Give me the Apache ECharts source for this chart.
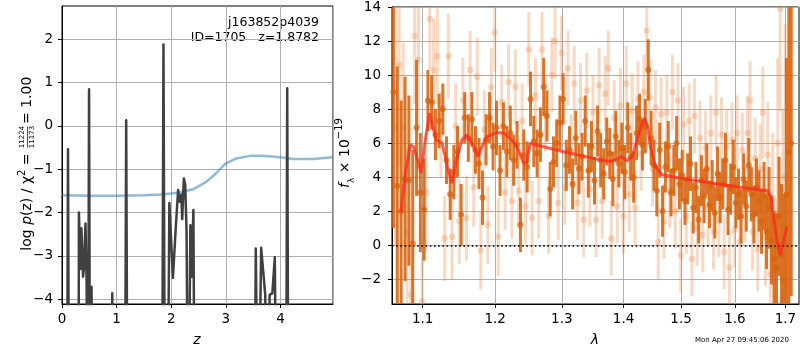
<!DOCTYPE html>
<html><head><meta charset="utf-8">
<script src="https://cdn.jsdelivr.net/npm/echarts@6/dist/echarts.min.js"></script>
<style>html,body{margin:0;padding:0;background:#fff}#c{width:800px;height:350px}</style>
</head><body><div id="c"></div>
<script>
// ---------- left panel: log p(z) and scaled chi2 ----------
const pzZ   = [0, 0.09, 0.11, 0.13, 0.30, 0.31, 0.335, 0.355, 0.385, 0.40, 0.43, 0.45, 0.475, 0.495, 0.515, 0.54, 0.555, 0.57, 0.90, 0.92, 0.94, 1.15, 1.175, 1.20, 1.83, 1.857, 1.885, 1.93, 1.965, 2.03, 2.08, 2.125, 2.155, 2.185, 2.20, 2.23, 2.255, 2.28, 2.31, 2.33, 2.35, 2.37, 2.405, 2.43, 3.52, 3.547, 3.59, 3.62, 3.645, 3.72, 3.76, 3.80, 3.85, 3.895, 3.93, 4.10, 4.122, 4.145, 4.96];
const pzLog = [-8, -8, -0.54, -8, -8, -2.0, -3.3, -2.36, -3.48, -3.3, -2.25, -3.6, -8, 0.85, -8, -3.71, -3.7, -8, -8, -3.86, -8, -8, 0.13, -8, -8, 1.88, -8, -8, -1.78, -3.51, -2.4, -1.48, -1.75, -1.58, -2.15, -1.21, -1.35, -2.45, -8, -8, -2.29, -3.48, -1.94, -8, -8, -2.83, -8, -8, -2.81, -3.9, -8, -3.9, -3.86, -3.03, -8, -8, 0.87, -8, -8];
const chiZ   = [0, 0.5, 1.0, 1.5, 1.79, 2.0, 2.16, 2.40, 2.64, 2.83, 2.98, 3.19, 3.44, 3.68, 3.99, 4.23, 4.60, 4.96];
const chiVal = [-1.60, -1.61, -1.61, -1.60, -1.58, -1.56, -1.53, -1.46, -1.29, -1.08, -0.88, -0.75, -0.69, -0.69, -0.72, -0.76, -0.76, -0.72];
const zTicks = [0, 1, 2, 3, 4];
const logpTicks = [-4, -3, -2, -1, 0, 1, 2];

// ---------- right panel: spectrum ----------
const darkLam = [1.062,1.067,1.072,1.077,1.082,1.087,1.092,1.097,1.102,1.107,1.112,1.117,1.122,1.127,1.132,1.137,1.142,1.147,1.152,1.157,1.162,1.167,1.172,1.177,1.182,1.187,1.192,1.197,1.202,1.207,1.212,1.217,1.222,1.227,1.232,1.237,1.242,1.247,1.252,1.257,1.262,1.267,1.272,1.277,1.282,1.287,1.292,1.297,1.302,1.307,1.312,1.317,1.322,1.327,1.332,1.337,1.342,1.347,1.352,1.357,1.362,1.367,1.372,1.377,1.382,1.387,1.392,1.397,1.402,1.407,1.412,1.417,1.422,1.427,1.432,1.437,1.442,1.447,1.452,1.457,1.462,1.467,1.472,1.477,1.482,1.487,1.492,1.497,1.502,1.507,1.512,1.517,1.522,1.527,1.532,1.537,1.542,1.547,1.552,1.557,1.562,1.567,1.572,1.577,1.582,1.587,1.592,1.597,1.602,1.607,1.612,1.617,1.622,1.627,1.632,1.637,1.642,1.647,1.652,1.657,1.662,1.667,1.672,1.677,1.682,1.687,1.692,1.697,1.702,1.707,1.712];
const darkFlux = [9.0,3.5,2.0,3.9,3.8,0.1,6.9,3.1,2.1,8.5,8.4,6.5,7.3,8.0,5.0,3.0,4.3,5.5,1.8,7.5,6.3,7.4,5.6,4.8,2.8,6.2,7.5,5.8,6.9,4.4,7.0,5.5,6.6,5.0,5.9,1.2,5.3,4.6,8.6,6.1,5.4,6.5,9.3,7.6,3.3,4.9,6.0,7.2,8.6,4.7,5.6,3.6,6.3,4.5,5.2,7.3,4.4,5.8,3.8,6.7,5.0,4.2,6.1,5.4,3.9,6.4,4.8,5.7,4.3,6.9,5.2,4.0,6.6,7.4,5.9,7.0,10.3,6.3,4.7,3.2,5.6,2.0,4.6,5.8,3.1,4.4,6.0,3.6,4.1,2.6,3.9,4.8,2.2,3.4,1.5,3.8,2.9,4.5,2.4,3.5,1.9,4.2,2.8,3.6,5.0,2.1,3.3,4.6,2.5,3.0,1.7,3.9,2.3,4.7,3.0,1.8,3.4,2.6,1.4,2.9,0.8,2.2,0.3,-0.8,-1.3,1.7,-0.6,-2.0,3.0,5.5,6.0];
const darkErr = [8,7,6.5,6,5,5.5,4,3.5,3,1.8,1.6,1.5,1.6,1.5,1.4,1.5,1.6,1.5,1.8,1.5,1.4,1.6,1.4,1.5,1.6,1.5,1.5,1.4,1.6,1.5,1.4,1.5,1.6,1.5,1.4,1.6,1.5,1.5,1.6,1.5,1.4,1.6,1.7,1.5,1.6,1.5,1.4,1.6,1.5,1.5,1.4,1.5,1.6,1.5,1.4,1.5,1.6,1.5,1.4,1.5,1.6,1.5,1.4,1.5,1.6,1.5,1.4,1.5,1.6,1.5,1.4,1.5,1.6,1.5,1.5,1.6,1.8,1.6,1.5,1.5,1.6,1.5,1.5,1.5,1.4,1.5,1.6,1.5,1.5,1.4,1.5,1.6,1.5,1.5,1.4,1.5,1.6,1.5,1.4,1.5,1.5,1.6,1.5,1.5,1.6,1.5,1.5,1.6,1.5,1.5,1.6,1.5,1.5,1.6,1.6,1.7,1.7,1.8,1.9,2.0,2.2,2.4,2.6,2.8,3.2,3.5,4.2,5,8,10,9];
const lightLam = [1.0645,1.0695,1.0745,1.0795,1.0845,1.0895,1.0945,1.0995,1.1045,1.1095,1.1145,1.1195,1.1245,1.1295,1.1345,1.1395,1.1445,1.1495,1.1545,1.1595,1.1645,1.1695,1.1745,1.1795,1.1845,1.1895,1.1945,1.1995,1.2045,1.2095,1.2145,1.2195,1.2245,1.2295,1.2345,1.2395,1.2445,1.2495,1.2545,1.2595,1.2645,1.2695,1.2745,1.2795,1.2845,1.2895,1.2945,1.2995,1.3045,1.3095,1.3145,1.3195,1.3245,1.3295,1.3345,1.3395,1.3445,1.3495,1.3545,1.3595,1.3645,1.3695,1.3745,1.3795,1.3845,1.3895,1.3945,1.3995,1.4045,1.4095,1.4145,1.4195,1.4245,1.4295,1.4345,1.4395,1.4445,1.4495,1.4545,1.4595,1.4645,1.4695,1.4745,1.4795,1.4845,1.4895,1.4945,1.4995,1.5045,1.5095,1.5145,1.5195,1.5245,1.5295,1.5345,1.5395,1.5445,1.5495,1.5545,1.5595,1.5645,1.5695,1.5745,1.5795,1.5845,1.5895,1.5945,1.5995,1.6045,1.6095,1.6145,1.6195,1.6245,1.6295,1.6345,1.6395,1.6445,1.6495,1.6545,1.6595,1.6645,1.6695,1.6745,1.6795,1.6845,1.6895,1.6945,1.6995];
const lightFlux = [7.0,10.6,6.9,0.7,-2.9,12.3,10.9,-3.3,3.1,13.3,10.3,11.1,6.5,0.4,11.1,0.5,7.0,1.4,8.5,1.6,10.3,3.4,9.9,-0.3,6.8,1.2,9.3,12.5,0.5,8.4,3.1,9.6,2.6,9.3,3.2,7.3,2.3,11.5,1.6,8.8,2.6,11.5,7.7,1.7,10.0,12.0,2.5,11.3,3.4,10.4,5.5,9.5,2.5,8.5,1.5,9.1,3.3,7.8,1.5,9.4,2.6,8.9,10.4,0.4,7.5,2.3,8.2,1.7,9.5,3.0,7.9,2.2,8.6,5.4,9.0,12.6,8.7,4.5,8.1,0.2,7.7,1.4,7.8,3.2,9.0,2.0,8.5,-0.6,7.1,1.7,7.3,-0.8,7.6,1.0,6.3,0.6,5.7,2.2,6.6,0.8,7.8,1.5,6.5,-0.4,5.8,-1.3,6.2,0.9,6.6,0.2,5.6,2.4,6.6,8.5,0.8,5.1,-0.2,4.5,7.8,0.5,5.3,-1.7,2.8,-1.5,6.0,13.9,1.0,4.0];
const lightErr = [7,6,5,5,5,4,4,4,3.5,3,3,2.8,2.5,2.5,2.5,2.5,2.5,2.5,2.5,2.5,2.3,2.3,2.3,2.3,2.3,2.3,2.3,2.3,2.3,2.2,2.2,2.2,2.2,2.2,2.2,2.2,2.2,2.2,2.2,2.2,2.2,2.2,2.2,2.2,2.2,2.2,2.2,2.2,2.2,2.2,2.2,2.2,2.2,2.2,2.2,2.2,2.2,2.2,2.2,2.2,2.2,2.2,2.2,2.2,2.2,2.2,2.2,2.2,2.2,2.2,2.2,2.2,2.2,2.2,2.2,2.3,2.2,2.2,2.2,2.2,2.2,2.2,2.2,2.2,2.2,2.2,2.2,2.2,2.2,2.2,2.2,2.2,2.2,2.2,2.2,2.2,2.2,2.2,2.2,2.2,2.2,2.2,2.2,2.2,2.2,2.2,2.2,2.2,2.2,2.2,2.2,2.2,2.2,2.3,2.3,2.4,2.5,2.6,2.7,2.9,3.1,3.4,3.8,4.2,5,6,7,9];
const modelLam  = [1.0718,1.0774,1.0839,1.0882,1.0934,1.0979,1.1036,1.1092,1.1146,1.1182,1.1259,1.1334,1.1394,1.1463,1.1532,1.1601,1.1671,1.1756,1.1812,1.1884,1.2028,1.2123,1.2245,1.2342,1.2416,1.2467,1.2517,1.2557,1.3027,1.3561,1.3779,1.3890,1.3973,1.4058,1.4143,1.4228,1.4313,1.4358,1.4410,1.4457,1.4544,1.4661,1.4985,1.5597,1.6231,1.6627,1.6707,1.6759,1.6828,1.6895,1.6962,1.7032];
const modelFlux = [1.98,4.24,5.9,5.8,5.02,4.24,6.19,7.76,6.78,6.19,6.0,4.62,3.65,5.21,6.19,6.49,6.0,5.21,5.8,6.39,6.63,6.59,6.19,5.6,4.82,4.9,6.0,5.95,5.5,5.06,4.92,5.06,5.21,4.96,5.2,6.19,7.18,7.47,6.98,5.8,4.62,4.14,3.94,3.65,3.35,3.21,2.86,1.68,0.31,-0.57,0.31,1.1];
const lamTicks  = [1.1, 1.2, 1.3, 1.4, 1.5, 1.6, 1.7];
const fluxTicks = [-2, 0, 2, 4, 6, 8, 10, 12, 14];

const FONT = 'DejaVu Sans';
const LAM_MIN = 1.0603, LAM_MAX = 1.728, F_MIN = -3.45, F_MAX = 14;
const lg = v => Math.log10(v);

const chart = echarts.init(document.getElementById('c'), null, {renderer: 'canvas'});

function axisCommon(extra) {
  return Object.assign({
    axisLine: {show: true, onZero: false, lineStyle: {color: '#000', width: 1}},
    axisTick: {show: true, inside: false, length: 4, lineStyle: {color: '#000', width: 1}},
    axisLabel: {color: '#000', fontFamily: FONT, fontSize: 13.5},
    splitLine: {show: true, lineStyle: {color: '#b0b0b0', width: 1}}
  }, extra);
}

function errBars(lam, flux, err, color, width, z) {
  return {
    type: 'custom', xAxisIndex: 1, yAxisIndex: 1, silent: true, z: z, clip: true,
    encode: {x: 0, y: [1, 2]},
    data: lam.map((l, i) => [lg(l), flux[i] - err[i], flux[i] + err[i]]),
    renderItem: (params, api) => {
      const x = api.value(0);
      const lo = Math.max(api.value(1), F_MIN), hi = Math.min(api.value(2), F_MAX);
      const p1 = api.coord([x, lo]), p2 = api.coord([x, hi]);
      return {type: 'line', shape: {x1: p1[0], y1: p1[1], x2: p2[0], y2: p2[1]},
              style: {stroke: color, lineWidth: width}};
    }
  };
}

const option = {
  animation: false,
  backgroundColor: '#fff',
  grid: [
    {left: 62, top: 6, width: 271, height: 298, show: true, borderColor: '#000', borderWidth: 1, backgroundColor: 'transparent'},
    {left: 392, top: 7, width: 407, height: 297, show: true, borderColor: '#000', borderWidth: 1, backgroundColor: 'transparent'}
  ],
  xAxis: [
    axisCommon({type: 'value', gridIndex: 0, min: 0, max: 4.96, interval: 1,
      axisLabel: {color: '#000', fontFamily: FONT, fontSize: 13.5, margin: 8, showMaxLabel: false}}),
    axisCommon({type: 'value', gridIndex: 1, min: lg(LAM_MIN), max: lg(LAM_MAX),
      axisTick: {show: true, length: 4, lineStyle: {color: '#000'}, customValues: lamTicks.map(lg)},
      axisLabel: {color: '#000', fontFamily: FONT, fontSize: 13.5, margin: 8,
        customValues: lamTicks.map(lg), formatter: v => Math.pow(10, v).toFixed(1)}})
  ],
  yAxis: [
    axisCommon({type: 'value', gridIndex: 0, min: -4.11, max: 2.77,
      axisTick: {show: true, length: 4, lineStyle: {color: '#000'}, customValues: logpTicks},
      axisLabel: {color: '#000', fontFamily: FONT, fontSize: 13.5, margin: 9, customValues: logpTicks,
        formatter: v => String(v).replace('-', '\u2212')}}),
    axisCommon({type: 'value', gridIndex: 1, min: F_MIN, max: F_MAX,
      axisTick: {show: true, length: 4, lineStyle: {color: '#000'}, customValues: fluxTicks},
      axisLabel: {color: '#000', fontFamily: FONT, fontSize: 13.5, margin: 11, customValues: fluxTicks,
        formatter: v => String(v).replace('-', '\u2212')}})
  ],
  series: [
    {type: 'line', xAxisIndex: 0, yAxisIndex: 0, showSymbol: false, silent: true, z: 2,
     data: chiZ.map((z, i) => [z, chiVal[i]]),
     lineStyle: {color: 'rgba(31,119,180,0.5)', width: 2.5}},
    {type: 'line', xAxisIndex: 0, yAxisIndex: 0, showSymbol: false, silent: true, z: 3,
     data: pzZ.map((z, i) => [z, pzLog[i]]),
     lineStyle: {color: '#404040', width: 2.5, join: 'round'}},
    errBars(lightLam, lightFlux, lightErr, 'rgba(232,130,60,0.30)', 3, 2),
    {type: 'scatter', xAxisIndex: 1, yAxisIndex: 1, silent: true, z: 3, symbolSize: 6.5,
     data: lightLam.map((l, i) => [lg(l), lightFlux[i]]),
     itemStyle: {color: 'rgba(232,130,60,0.35)'}},
    errBars(darkLam, darkFlux, darkErr, 'rgba(214,98,12,0.88)', 3, 4),
    {type: 'scatter', xAxisIndex: 1, yAxisIndex: 1, silent: true, z: 5, symbolSize: 6,
     data: darkLam.map((l, i) => [lg(l), darkFlux[i]]),
     itemStyle: {color: 'rgba(214,98,12,0.92)'}},
    {type: 'line', xAxisIndex: 1, yAxisIndex: 1, showSymbol: false, silent: true, z: 6,
     data: modelLam.map((l, i) => [lg(l), modelFlux[i]]),
     lineStyle: {color: 'rgba(255,40,25,0.75)', width: 3},
     markLine: {silent: true, symbol: 'none', label: {show: false},
       lineStyle: {color: '#000', width: 1.6, type: [1.6, 2.6]},
       data: [{yAxis: 0}]}}
  ],
  graphic: [
    {type: 'text', right: 800 - 319, top: 16, style: {text: 'j163852p4039', font: '12.5px "DejaVu Sans"', fill: '#000', align: 'right'}},
    {type: 'text', right: 800 - 319, top: 31, style: {text: 'ID=1705   z=1.8782', font: '12.5px "DejaVu Sans"', fill: '#000', align: 'right'}},
    {type: 'text', x: 197, y: 340, style: {text: 'z', font: 'italic 14px "DejaVu Sans"', fill: '#000', align: 'center', verticalAlign: 'middle'}},
    {type: 'text', x: 595, y: 340, style: {text: 'λ', font: 'italic 14px "DejaVu Sans"', fill: '#000', align: 'center', verticalAlign: 'middle'}},
    {type: 'text', x: 742, y: 340, style: {text: 'Mon Apr 27 09:45:06 2020', font: '7px "DejaVu Sans"', fill: '#000', align: 'center', verticalAlign: 'middle'}},
    {type: 'group', x: 27, y: 137, rotation: Math.PI / 2, children: [
      {type: 'text', x: -12, y: 0, style: {
        text: '{a|log }{i|p}{a|(z) / χ}{s|2}{a| = }',
        align: 'right', verticalAlign: 'middle', fill: '#000',
        rich: {a: {fontFamily: FONT, fontSize: 14, lineHeight: 20, verticalAlign: 'middle'},
               i: {fontFamily: FONT, fontSize: 14, fontStyle: 'italic', lineHeight: 20, verticalAlign: 'middle'},
               s: {fontFamily: FONT, fontSize: 10, lineHeight: 20, verticalAlign: 'top'}}}},
      {type: 'text', x: 0, y: -4.5, style: {text: '11224', font: '7px "DejaVu Sans"', fill: '#000', align: 'center', verticalAlign: 'middle'}},
      {type: 'line', shape: {x1: -10.5, y1: 0.5, x2: 10.5, y2: 0.5}, style: {stroke: '#000', lineWidth: 0.7}},
      {type: 'text', x: 0, y: 5.5, style: {text: '11173', font: '7px "DejaVu Sans"', fill: '#000', align: 'center', verticalAlign: 'middle'}},
      {type: 'text', x: 13, y: 0, style: {text: '= 1.00', font: '14px "DejaVu Sans"', fill: '#000', align: 'left', verticalAlign: 'middle'}}
    ]},
    {type: 'group', x: 345, y: 153, rotation: Math.PI / 2, children: [
      {type: 'text', x: 0, y: 0, style: {
        text: '{i|f}{b|λ}{a| × 10}{s|−19}',
        align: 'center', verticalAlign: 'middle', fill: '#000',
        rich: {a: {fontFamily: FONT, fontSize: 14, lineHeight: 22, verticalAlign: 'middle'},
               i: {fontFamily: FONT, fontSize: 14, fontStyle: 'italic', lineHeight: 22, verticalAlign: 'middle'},
               b: {fontFamily: FONT, fontSize: 9, lineHeight: 22, verticalAlign: 'bottom'},
               s: {fontFamily: FONT, fontSize: 10, lineHeight: 22, verticalAlign: 'top'}}}}
    ]}
  ]
};
chart.setOption(option);
</script>
</body></html>
